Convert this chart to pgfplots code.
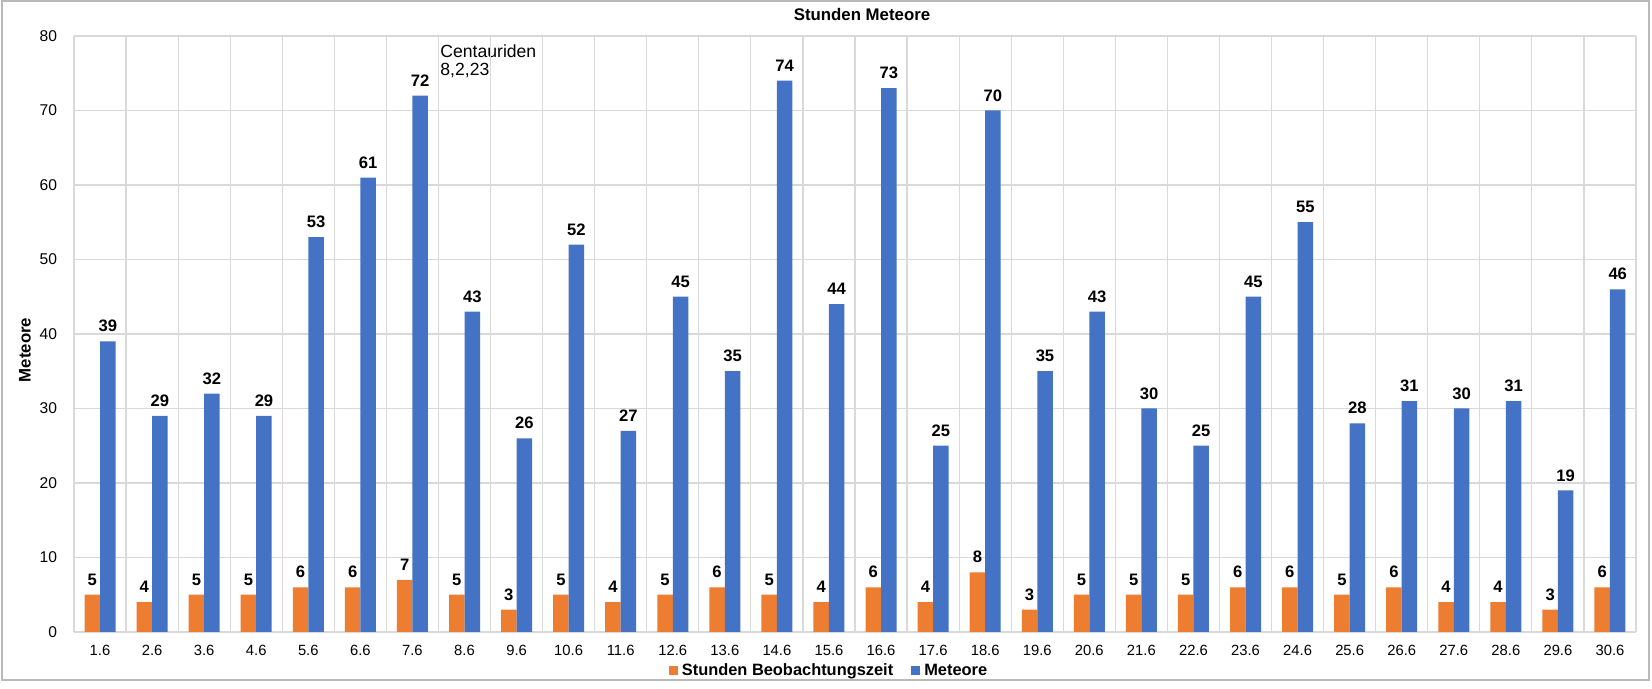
\documentclass[border=0pt]{standalone}
\usepackage{fontspec}
\setmainfont{Liberation Sans}
\usepackage{pgfplots}
\pgfplotsset{compat=1.18}
\definecolor{cOrange}{HTML}{ED7D31}
\definecolor{cBlue}{HTML}{4472C4}
\definecolor{cGrid}{HTML}{D9D9D9}
\begin{document}
\begin{tikzpicture}[x=0.5pt,y=0.5pt]
\useasboundingbox (0,0) rectangle (1652,689);
\draw[color=gray!55, line width=0.7pt] (2,9) rectangle (1649,688);
\node[font=\bfseries\fontsize{8.4}{10}\selectfont] at (862,674) {Stunden Meteore};
\node[font=\bfseries\fontsize{8.4}{10}\selectfont, rotate=90] at (25,339) {Meteore};
\node[anchor=north west, inner sep=0pt, align=left, font=\fontsize{8.8}{9}\selectfont] at (440,645) {Centauriden\\8,2,23};
\begin{axis}[
  at={(37pt,28.5pt)}, anchor=south west,
  scale only axis, width=781pt, height=298pt,
  ybar=0pt, bar width=7.75pt,
  xmin=-0.5, xmax=29.5, ymin=0, ymax=80,
  enlargelimits=false,
  xtick={0,...,29},
  xticklabels={1.6,2.6,3.6,4.6,5.6,6.6,7.6,8.6,9.6,10.6,11.6,12.6,13.6,14.6,15.6,16.6,17.6,18.6,19.6,20.6,21.6,22.6,23.6,24.6,25.6,26.6,27.6,28.6,29.6,30.6},
  minor xtick={-0.5,0.5,...,29.5},
  ytick={0,10,...,80},
  ymajorgrids, xminorgrids,
  major grid style={draw=cGrid, line width=0.6pt},
  minor grid style={draw=cGrid, line width=0.6pt},
  major tick length=0pt, minor tick length=0pt,
  tick style={draw=none},
  axis line style={draw=none},
  /pgf/number format/assume math mode=true,
  yticklabel style={font=\fontsize{7.8}{9}\selectfont, xshift=-5pt},
  xticklabel style={font=\fontsize{7.4}{9}\selectfont, yshift=-3pt},
  nodes near coords,
  nodes near coords style={font=\bfseries\fontsize{8.3}{9}\selectfont, text=black, yshift=1.1pt},
  legend columns=2,
  legend style={at={(0.484,-0.0654)}, anchor=center, draw=none, fill=none,
    font=\bfseries\fontsize{8.2}{9}\selectfont,
    /tikz/every even column/.append style={column sep=7pt}},
  legend image code/.code={\fill[#1] (-1.5pt,-2.25pt) rectangle (3pt,2.25pt);},
]
\addplot[fill=cOrange, draw=none] coordinates {
(0,5) (1,4) (2,5) (3,5) (4,6) (5,6) (6,7) (7,5) (8,3) (9,5)
(10,4) (11,5) (12,6) (13,5) (14,4) (15,6) (16,4) (17,8) (18,3) (19,5)
(20,5) (21,5) (22,6) (23,6) (24,5) (25,6) (26,4) (27,4) (28,3) (29,6)};
\addplot[fill=cBlue, draw=none] coordinates {
(0,39) (1,29) (2,32) (3,29) (4,53) (5,61) (6,72) (7,43) (8,26) (9,52)
(10,27) (11,45) (12,35) (13,74) (14,44) (15,73) (16,25) (17,70) (18,35) (19,43)
(20,30) (21,25) (22,45) (23,55) (24,28) (25,31) (26,30) (27,31) (28,19) (29,46)};
\legend{Stunden Beobachtungszeit, Meteore}
\end{axis}
\end{tikzpicture}
\end{document}
